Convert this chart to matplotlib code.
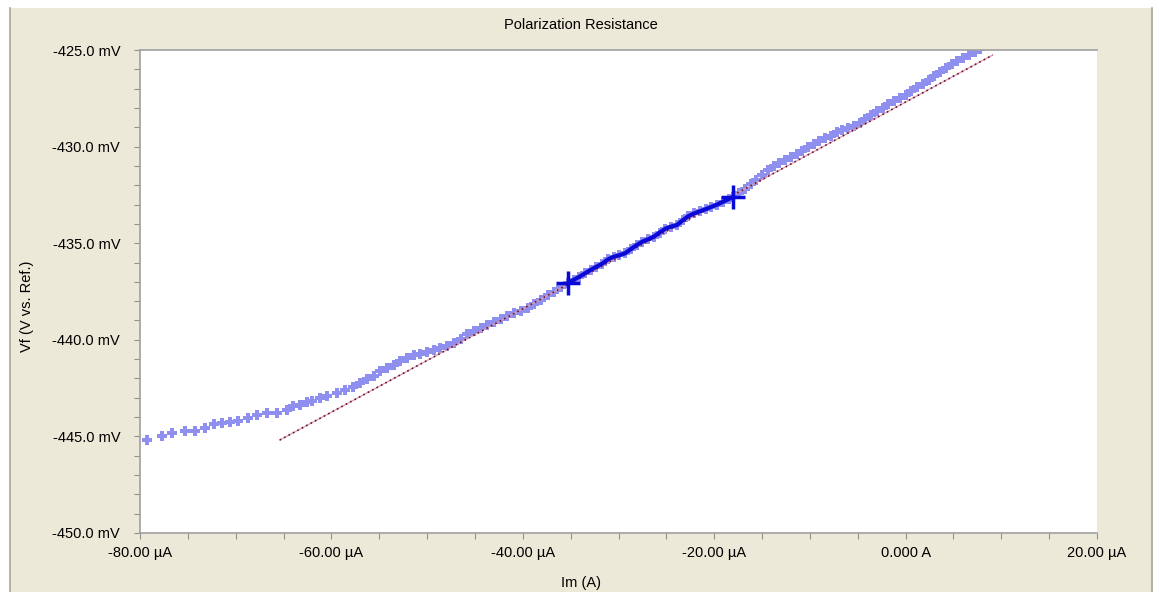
import matplotlib
matplotlib.use("Agg")
import numpy as np
import matplotlib.pyplot as plt
from matplotlib.patches import Rectangle
from matplotlib.lines import Line2D

# --- Daten ---
# Strom in µA, Potential in mV
strom = [-79.3, -77.7, -76.7, -75.3, -74.3, -73.2, -72.3, -71.4, -70.6, -69.8,
         -68.7, -67.8, -66.7, -65.7, -64.6, -64.0, -63.3, -62.6, -62.0, -61.2,
         -60.5, -59.4, -58.6, -57.7, -57.0, -56.3,
         -55.6, -54.9, -54.2, -53.5, -52.8, -52.1, -51.4, -50.7, -50.0, -49.3,
         -48.6, -47.9, -47.2, -46.5, -45.8, -45.1, -44.4, -43.7, -43.0, -42.3,
         -41.6, -40.9, -40.2, -39.5, -38.8, -38.1, -37.4, -36.7, -36.0, -35.3,
         -34.7, -34.1, -33.5, -32.9, -32.3, -31.7, -31.1, -30.5, -29.9, -29.3,
         -28.7, -28.1, -27.5, -26.9, -26.3, -25.7, -25.1, -24.5, -23.9, -23.3,
         -22.7, -22.1, -21.5, -20.9, -20.3, -19.7, -19.1, -18.5, -18.0,
         -17.4, -16.8, -16.2, -15.6, -15.0, -14.4, -13.8, -13.2, -12.6, -12.0,
         -11.4, -10.8, -10.2, -9.6, -9.0, -8.4, -7.8, -7.2, -6.6, -6.0,
         -5.4, -4.8, -4.2, -3.6, -3.0, -2.4, -1.8, -1.2, -0.6, 0.0,
         0.6, 1.2, 1.8, 2.4, 3.0, 3.6, 4.2, 4.8, 5.4, 6.0, 6.6, 7.2, 7.8]
potential = [-445.19, -444.98, -444.82, -444.72, -444.72, -444.57, -444.36, -444.31, -444.25, -444.20,
             -444.05, -443.89, -443.79, -443.79, -443.63, -443.43, -443.35, -443.22, -443.15, -443.01,
             -442.90, -442.75, -442.62, -442.44, -442.25, -442.05,
             -441.85, -441.62, -441.45, -441.28, -441.12, -440.92, -440.80, -440.74, -440.62, -440.52,
             -440.40, -440.30, -440.14, -439.95, -439.72, -439.55, -439.38, -439.22, -439.06, -438.92,
             -438.78, -438.62, -438.50, -438.35, -438.14, -437.92, -437.70, -437.50, -437.26, -437.08,
             -436.90, -436.74, -436.56, -436.38, -436.22, -436.06, -435.84, -435.70, -435.62, -435.52,
             -435.30, -435.10, -434.92, -434.80, -434.66, -434.45, -434.25, -434.14, -434.06, -433.82,
             -433.60, -433.46, -433.35, -433.24, -433.12, -433.00, -432.86, -432.72, -432.60,
             -432.40, -432.18, -431.96, -431.74, -431.48, -431.22, -431.02, -430.86, -430.70, -430.56,
             -430.40, -430.22, -430.02, -429.84, -429.70, -429.58, -429.44, -429.26, -429.12, -429.02,
             -428.94, -428.78, -428.56, -428.36, -428.18, -428.02, -427.82, -427.62, -427.46, -427.32,
             -427.12, -426.92, -426.76, -426.56, -426.36, -426.14, -425.94, -425.72, -425.56, -425.42,
             -425.28, -425.12, -424.96]

# Fitbereich (Grenzen in µA)
fit_von = -35.3
fit_bis = -18.0

# Ausgleichsgerade (Endpunkte)
gerade_i = [-65.4, 9.1]
gerade_v = [-445.19, -425.26]

xticks = [-80, -60, -40, -20, 0, 20]
xtick_labels = ["-80.00 µA", "-60.00 µA", "-40.00 µA", "-20.00 µA", "0.000 A", "20.00 µA"]
yticks = [-450, -445, -440, -435, -430, -425]
ytick_labels = ["-450.0 mV", "-445.0 mV", "-440.0 mV", "-435.0 mV", "-430.0 mV", "-425.0 mV"]

# --- Plot ---
W, H = 1159, 592
plt.rcParams['font.family'] = ['Liberation Sans', 'DejaVu Sans']
fig = plt.figure(figsize=(W / 100, H / 100), dpi=100, facecolor='white')

# Fensterhintergrund (beige) und Rahmenlinien
fig.add_artist(Rectangle((10 / W, 0), 1142 / W, 584 / H, transform=fig.transFigure,
                         facecolor='#ece9d8', edgecolor='none', zorder=-10))
fig.add_artist(Line2D([10 / W, 10 / W], [0, 584 / H], transform=fig.transFigure,
                      color='#a8a698', lw=1.2, zorder=-9))
fig.add_artist(Line2D([1152 / W, 1152 / W], [0, 584 / H], transform=fig.transFigure,
                      color='#a8a698', lw=1.2, zorder=-9))

ax = fig.add_axes([140 / W, 59 / H, 957 / W, 483 / H])
ax.set_facecolor('white')

x = np.array(strom)
y = np.array(potential)
ax.plot(x, y, linestyle='none', marker='P', markersize=6.5, color='#8f8ff0',
        markeredgewidth=0, zorder=2)

ax.plot(gerade_i, gerade_v, color='#d7a0b0', lw=0.9, zorder=3)
ax.plot(gerade_i, gerade_v, color='#701030', lw=1.2, linestyle=(0, (1, 2)), zorder=3)

maske = (x >= fit_von - 0.01) & (x <= fit_bis + 0.01)
ax.plot(x[maske], y[maske], color='#0a0ad8', lw=3.0, zorder=4)
ax.plot([x[maske][0], x[maske][-1]], [y[maske][0], y[maske][-1]], linestyle='none',
        marker='+', markersize=17, markeredgewidth=2.5, color='#0a0ad8', zorder=5)

ax.set_xlim(-80, 20)
ax.set_ylim(-450, -425)
ax.set_xticks(xticks)
ax.set_xticklabels(xtick_labels)
ax.set_xticks(np.arange(-80, 21, 5), minor=True)
ax.set_yticks(yticks)
ax.set_yticklabels(ytick_labels)
ax.set_yticks(np.arange(-450, -424, 1), minor=True)
ax.tick_params(axis='both', which='both', direction='out', length=4.3, width=0.8,
               color='#909090', labelsize=10.5)
ax.tick_params(axis='y', which='both', pad=10)
ax.tick_params(axis='x', which='both', pad=5)

for s in ['top', 'left', 'bottom']:
    ax.spines[s].set_color('#a0a0a0')
    ax.spines[s].set_linewidth(1.2)
ax.spines['right'].set_visible(False)

fig.text(581 / W, 1 - 25 / H, "Polarization Resistance", ha='center', va='center', fontsize=10.5)
fig.text(581 / W, 1 - 583 / H, "Im (A)", ha='center', va='center', fontsize=10.5)
fig.text(27 / W, 1 - 306 / H, "Vf (V vs. Ref.)", ha='center', va='center', rotation=90, fontsize=10.5)

fig.savefig("out.png", dpi=100, facecolor=fig.get_facecolor())
